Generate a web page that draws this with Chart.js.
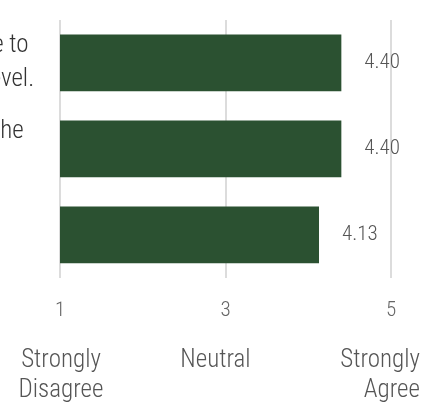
<!DOCTYPE html>
<html lang="en">
<head>
    <meta charset="UTF-8">
    <title>Survey ratings</title>
    <script src="https://cdn.jsdelivr.net/npm/chart.js"></script>
    <style>
        html, body { margin: 0; padding: 0; background: #fff; overflow: hidden; }
        body { width: 438px; height: 405px; position: relative; }
        #wrap { position: absolute; top: 0; height: 405px; }
    </style>
</head>
<body>
    <div id="wrap"><canvas id="ratingChart"></canvas></div>

    <script>
        // data
        const questions = [
            ['This course prepared me to', 'practice at the highest level.'],
            ['I do recommend this to the', 'others.'],
            ['Overall satisfied.']
        ];
        const scores = [4.40, 4.40, 4.13];
        const tickValues = [1, 3, 5];
        const anchorLabels = [['Strongly', 'Disagree'], ['Neutral'], ['Strongly', 'Agree']];

        const FONT = "'Roboto Condensed', Roboto, sans-serif";
        const barColor = '#2b5131';

        // the left labels are cut by the page edge, so push the canvas left
        const m = document.createElement('canvas').getContext('2d');
        m.font = '300 25px ' + FONT;
        const off = Math.round(m.measureText(questions[0][0]).width - 29);
        const wrap = document.getElementById('wrap');
        wrap.style.left = (-off) + 'px';
        wrap.style.width = (438 + off) + 'px';

        const valueLabels = {
            id: 'valueLabels',
            afterDatasetsDraw(chart) {
                const ctx = chart.ctx;
                const meta = chart.getDatasetMeta(0);
                ctx.save();
                ctx.font = '300 21px ' + FONT;
                ctx.fillStyle = '#555';
                ctx.textAlign = 'left';
                ctx.textBaseline = 'middle';
                meta.data.forEach((bar, i) => {
                    ctx.fillText(scores[i].toFixed(2), bar.x + 23, bar.y);
                });
                ctx.restore();
            }
        };

        const anchorText = {
            id: 'anchorText',
            afterDraw(chart) {
                const ctx = chart.ctx;
                const x = chart.scales.x;
                const bottom = chart.chartArea.bottom;
                ctx.save();
                ctx.font = '300 25px ' + FONT;
                ctx.fillStyle = '#555';
                ctx.textBaseline = 'middle';
                anchorLabels.forEach((lines, i) => {
                    let px = x.getPixelForValue(tickValues[i]);
                    if (i === 0) { ctx.textAlign = 'center'; px += 1; }
                    else if (i === 1) { ctx.textAlign = 'center'; px -= 10; }
                    else { ctx.textAlign = 'right'; px += 29; }
                    lines.forEach((t, j) => ctx.fillText(t, px, bottom + 83 + j * 30));
                });
                ctx.restore();
            }
        };

        new Chart(document.getElementById('ratingChart'), {
            type: 'bar',
            data: {
                labels: questions,
                datasets: [{
                    data: scores,
                    backgroundColor: barColor,
                    borderWidth: 0,
                    barPercentage: 0.66,
                    categoryPercentage: 1.0
                }]
            },
            options: {
                indexAxis: 'y',
                responsive: true,
                maintainAspectRatio: false,
                animation: false,
                layout: { padding: { top: 13, right: 47, bottom: 0, left: 0 } },
                plugins: { legend: { display: false }, tooltip: { enabled: false } },
                scales: {
                    x: {
                        min: 1,
                        max: 5,
                        afterBuildTicks: s => { s.ticks = tickValues.map(v => ({ value: v })); },
                        afterFit: s => { s.height = 127; },
                        grid: { color: '#dcdcdc', lineWidth: 2, drawTicks: false },
                        border: { display: false },
                        ticks: {
                            padding: 20,
                            color: '#666',
                            font: { family: FONT, size: 21, weight: 300 }
                        }
                    },
                    y: {
                        afterFit: s => { s.width = off + 60; },
                        grid: { display: false },
                        border: { display: false },
                        ticks: {
                            crossAlign: 'far',
                            color: '#333',
                            font: { family: FONT, size: 25, weight: 300, lineHeight: 1.35 }
                        }
                    }
                }
            },
            plugins: [valueLabels, anchorText]
        });
    </script>
</body>
</html>
